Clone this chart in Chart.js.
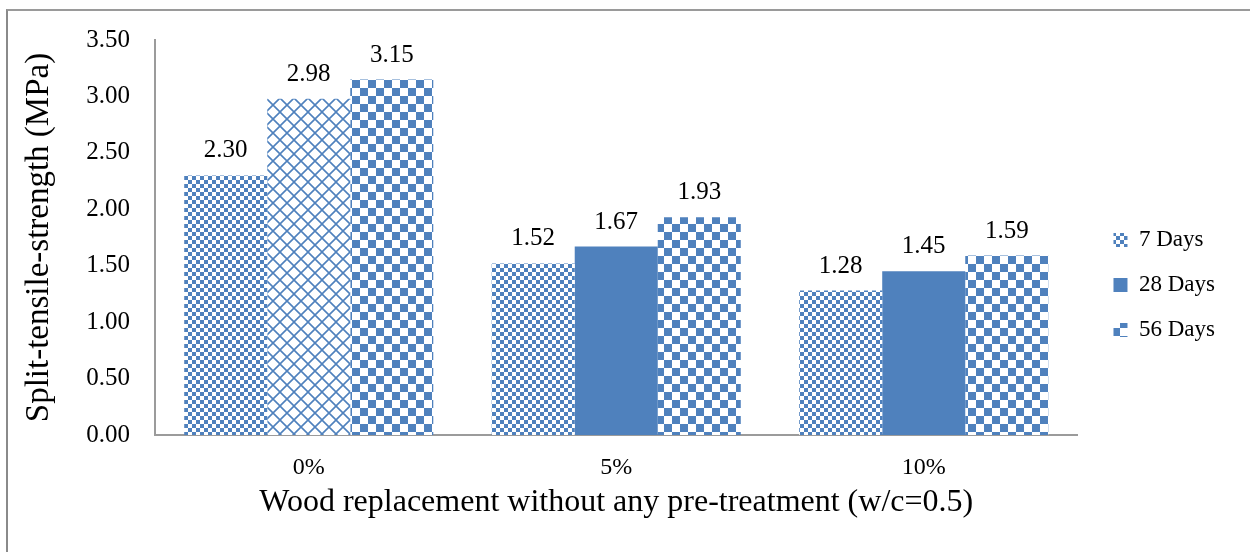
<!DOCTYPE html>
<html>
<head>
<meta charset="utf-8">
<title>Split-tensile-strength</title>
<script src="https://cdn.jsdelivr.net/npm/chart.js@4/dist/chart.umd.min.js"></script>
<style>
  html, body { margin: 0; padding: 0; background: #fff; }
  #wrap { position: relative; width: 1250px; height: 552px; overflow: hidden; }
  #frame { position: absolute; left: 6px; top: 9px; width: 1300px; height: 600px;
           border-left: 2px solid #8a8a8a; border-top: 2px solid #9a9a9a; }
  #chart { position: absolute; left: 0; top: 0; }
</style>
</head>
<body>
<div id="wrap">
  <div id="frame"></div>
  <canvas id="chart" width="1250" height="552"></canvas>
</div>
<script>
// Split-tensile-strength chart
const categories = ['0%', '5%', '10%'];
const seriesNames = ['7 Days', '28 Days', '56 Days'];
const days7 = [2.30, 1.52, 1.28];
const days28 = [2.98, 1.67, 1.45];
const days56 = [3.15, 1.93, 1.59];
const yMin = 0, yMax = 3.5, yStep = 0.5;

const BLUE = '#4f81bd';
const SERIF = 'Liberation Serif';

// small tiles used as fill patterns
function makePattern(size, drawFn) {
  const c = document.createElement('canvas');
  c.width = size; c.height = size;
  const g = c.getContext('2d');
  g.fillStyle = '#fff';
  g.fillRect(0, 0, size, size);
  g.fillStyle = BLUE;
  g.strokeStyle = BLUE;
  drawFn(g, size);
  return document.getElementById('chart').getContext('2d').createPattern(c, 'repeat');
}

const smallChecker = makePattern(8, (g) => { g.fillRect(0, 0, 4, 4); g.fillRect(4, 4, 4, 4); });
const bigChecker = makePattern(16, (g) => { g.fillRect(0, 0, 8, 8); g.fillRect(8, 8, 8, 8); });
const lattice = makePattern(14, (g) => {
  g.lineWidth = 1.6;
  g.beginPath();
  g.moveTo(0, 0); g.lineTo(14, 14);
  g.moveTo(14, 0); g.lineTo(0, 14);
  g.stroke();
});

const seriesFill = [smallChecker, BLUE, bigChecker];

const valueLabels = {
  id: 'valueLabels',
  afterDatasetsDraw(chart) {
    const ctx = chart.ctx;
    ctx.save();
    ctx.font = '25px "' + SERIF + '"';
    ctx.fillStyle = '#000';
    ctx.textAlign = 'center';
    ctx.textBaseline = 'alphabetic';
    chart.data.datasets.forEach((ds, i) => {
      chart.getDatasetMeta(i).data.forEach((bar, j) => {
        ctx.fillText(ds.data[j].toFixed(2), bar.x, bar.y - 18);
      });
    });
    ctx.restore();
  }
};

Chart.defaults.font.family = SERIF;
Chart.defaults.color = '#000';

new Chart(document.getElementById('chart'), {
  type: 'bar',
  data: {
    labels: categories,
    datasets: [
      { label: seriesNames[0], data: days7, backgroundColor: smallChecker },
      { label: seriesNames[1], data: days28, backgroundColor: [lattice, BLUE, BLUE] },
      { label: seriesNames[2], data: days56, backgroundColor: bigChecker }
    ]
  },
  options: {
    responsive: false,
    animation: false,
    devicePixelRatio: 1,
    layout: { padding: { top: 40, right: 25, bottom: 22, left: 0 } },
    datasets: { bar: { categoryPercentage: 0.81, barPercentage: 1.0, borderWidth: 0 } },
    plugins: {
      tooltip: { enabled: false },
      legend: {
        position: 'right',
        align: 'center',
        labels: {
          font: { family: SERIF, size: 23 },
          boxWidth: 14,
          boxHeight: 14,
          padding: 22,
          generateLabels: (chart) => chart.data.datasets.map((ds, i) => ({
            text: ds.label,
            fillStyle: seriesFill[i],
            strokeStyle: 'rgba(0,0,0,0)',
            lineWidth: 0,
            fontColor: '#000',
            hidden: false,
            datasetIndex: i
          }))
        }
      }
    },
    scales: {
      x: {
        grid: { display: false, drawTicks: false },
        border: { display: true, color: '#9b9b9b', width: 2 },
        ticks: { font: { family: SERIF, size: 24 }, padding: 18 },
        title: {
          display: true,
          text: 'Wood replacement without any pre-treatment (w/c=0.5)',
          font: { family: SERIF, size: 32 },
          padding: { top: 0, bottom: 8 }
        },
        afterFit: (s) => { s.height = 95; }
      },
      y: {
        min: yMin,
        max: yMax,
        grid: { display: false, drawTicks: false },
        border: { display: true, color: '#9b9b9b', width: 2 },
        ticks: {
          stepSize: yStep,
          padding: 25,
          font: { family: SERIF, size: 25 },
          callback: (v) => Number(v).toFixed(2)
        },
        title: {
          display: true,
          text: 'Split-tensile-strength (MPa)',
          font: { family: SERIF, size: 33 },
          padding: { top: 20, bottom: 0 }
        },
        afterFit: (s) => { s.width = 155; }
      },
      y2: {
        position: 'right',
        display: true,
        grid: { display: false, drawTicks: false },
        border: { display: false },
        ticks: { display: false },
        afterFit: (s) => { s.width = 14; }
      }
    }
  },
  plugins: [valueLabels]
});
</script>
</body>
</html>
